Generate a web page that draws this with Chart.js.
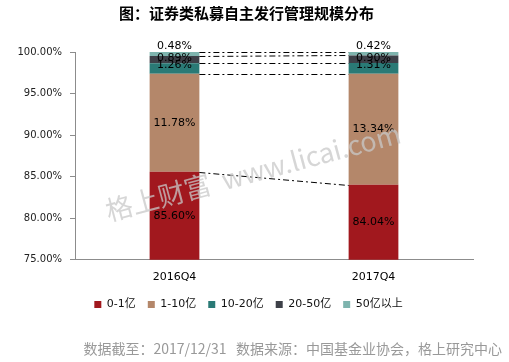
<!DOCTYPE html>
<html>
<head>
<meta charset="utf-8">
<script src="https://cdn.jsdelivr.net/npm/chart.js@4"></script>
<style>
  body { margin: 0; background: #fff; }
  #wrap { width: 509px; height: 362px; position: relative; }
</style>
</head>
<body>
<div id="wrap"><canvas id="scaleChart"></canvas></div>
<script>
  const quarters = ["2016Q4", "2017Q4"];
  const seriesNames = ["0-1亿", "1-10亿", "10-20亿", "20-50亿", "50亿以上"];
  const seriesColors = ["#a1181e", "#b4876a", "#2a7a76", "#3d4048", "#7eb4ae"];
  const share0to1 = [85.60, 84.04];
  const share1to10 = [11.78, 13.34];
  const share10to20 = [1.26, 1.31];
  const share20to50 = [0.89, 0.90];
  const shareOver50 = [0.48, 0.42];
  const yTicks = [75, 80, 85, 90, 95, 100];

  const allShares = [share0to1, share1to10, share10to20, share20to50, shareOver50];
  // label nudges, the small segments sit a bit higher like in the original
  const labelShift = [0, 0, -3, -1, -8];

  const fontLatin = "'DejaVu Sans', 'Noto Sans CJK SC', sans-serif";

  // dash-dot lines joining the top of each segment between the two bars
  const seriesLines = {
    id: "seriesLines",
    afterDatasetsDraw(chart) {
      const ctx = chart.ctx;
      ctx.save();
      ctx.strokeStyle = "#000";
      ctx.lineWidth = 1;
      ctx.setLineDash([6, 3, 2, 3]);
      chart.data.datasets.forEach((ds, i) => {
        const bars = chart.getDatasetMeta(i).data;
        const a = bars[0], b = bars[1];
        ctx.beginPath();
        ctx.moveTo(a.x + a.width / 2, Math.round(a.y) + 0.5);
        ctx.lineTo(b.x - b.width / 2, Math.round(b.y) + 0.5);
        ctx.stroke();
      });
      ctx.restore();
    }
  };

  // value labels inside the segments
  const segmentLabels = {
    id: "segmentLabels",
    afterDatasetsDraw(chart) {
      const ctx = chart.ctx;
      const bottom = chart.chartArea.bottom;
      ctx.save();
      ctx.font = "11px " + fontLatin;
      ctx.fillStyle = "#000";
      ctx.textAlign = "center";
      ctx.textBaseline = "middle";
      chart.data.datasets.forEach((ds, i) => {
        chart.getDatasetMeta(i).data.forEach((bar, j) => {
          const y = (bar.y + Math.min(bar.base, bottom)) / 2 + labelShift[i];
          ctx.fillText(ds.data[j].toFixed(2) + "%", bar.x, y);
        });
      });
      ctx.restore();
    }
  };

  // nudge title and legend a little right, like the original
  const nudge = {
    id: "nudge",
    afterLayout(chart) {
      chart.legend.left += 12;
      chart.legend.right += 12;
      chart.titleBlock.left += 10;
      chart.titleBlock.right += 10;
    }
  };

  // watermark + source line
  const extras = {
    id: "extras",
    afterDraw(chart) {
      const ctx = chart.ctx;
      ctx.save();
      ctx.translate(253, 172);
      ctx.rotate(-15 * Math.PI / 180);
      ctx.font = "27px 'Noto Sans CJK SC', sans-serif";
      ctx.fillStyle = "rgba(200,200,200,0.75)";
      ctx.textAlign = "center";
      ctx.textBaseline = "middle";
      ctx.fillText("格上财富  www.licai.com", 0, 0);
      ctx.restore();

      ctx.save();
      ctx.font = "14px 'Noto Sans CJK SC', sans-serif";
      ctx.fillStyle = "#999";
      ctx.textAlign = "right";
      ctx.textBaseline = "middle";
      ctx.fillText("数据截至：2017/12/31   数据来源：中国基金业协会，格上研究中心", 502, 349);
      ctx.restore();
    }
  };

  const ctxBar = document.getElementById("scaleChart").getContext("2d");
  new Chart(ctxBar, {
    type: "bar",
    data: {
      labels: quarters,
      datasets: seriesNames.map((name, i) => ({
        label: name,
        data: allShares[i],
        backgroundColor: seriesColors[i],
        borderWidth: 0,
        barPercentage: 0.25,
        categoryPercentage: 1
      }))
    },
    options: {
      responsive: true,
      maintainAspectRatio: false,
      animation: false,
      layout: { padding: { left: 0, right: 36, top: 0, bottom: 42 } },
      scales: {
        x: {
          stacked: true,
          grid: { display: false },
          border: { display: true, color: "#8c8c8c" },
          ticks: { color: "#000", padding: 3, font: { size: 11, family: fontLatin } }
        },
        y: {
          stacked: true,
          min: 75,
          max: 100,
          afterFit(scale) { scale.width = 75; },
          afterBuildTicks(scale) { scale.ticks = yTicks.map(v => ({ value: v })); },
          grid: { drawOnChartArea: false, drawTicks: true, tickLength: 5, color: "#8c8c8c" },
          border: { display: true, color: "#8c8c8c" },
          ticks: {
            color: "#222",
            padding: 8,
            font: { size: 10, family: fontLatin },
            callback: v => v.toFixed(2) + "%"
          }
        }
      },
      plugins: {
        title: {
          display: true,
          text: "图：证券类私募自主发行管理规模分布",
          color: "#000",
          font: { size: 15, weight: "bold", family: "'Noto Sans CJK SC', sans-serif" },
          padding: { top: 4, bottom: 30 }
        },
        legend: {
          position: "bottom",
          labels: {
            boxWidth: 7,
            boxHeight: 7,
            padding: 12,
            color: "#111",
            font: { size: 11, family: fontLatin }
          }
        },
        tooltip: { enabled: false }
      }
    },
    plugins: [nudge, seriesLines, segmentLabels, extras]
  });
</script>
</body>
</html>
